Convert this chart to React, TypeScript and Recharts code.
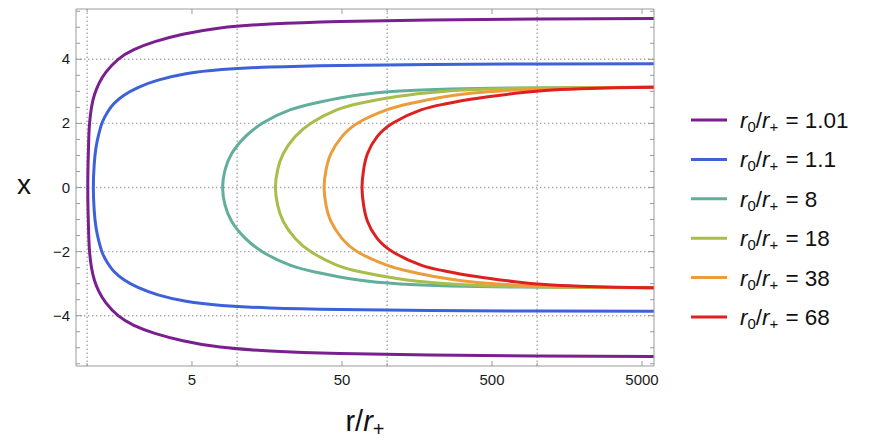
import { LineChart, Line, XAxis, YAxis, ReferenceLine } from "recharts";

// r0/r+ values shown in the legend, and their line colours
const seriesNames = ["1.01", "1.1", "8", "18", "38", "68"];
const seriesColors = ["#7a1f8e", "#3c61d8", "#62ae9c", "#a8be4b", "#eb9d3b", "#dd2121"];

// upper half of each curve (turning point outward): r/r+ and x
const r101 = [1.01, 1.015, 1.025, 1.038, 1.069, 1.12, 1.2, 1.335, 1.61, 2.05, 2.83, 4.35, 7.7, 16.6, 48.5, 193, 1045, 6000];
const x101 = [0, 0.8, 1.5, 2.0, 2.5, 2.9, 3.25, 3.6, 4.0, 4.3, 4.55, 4.78, 4.98, 5.1, 5.18, 5.23, 5.255, 5.27];

const r11 = [1.1, 1.114, 1.146, 1.2, 1.266, 1.366, 1.51, 1.76, 2.18, 2.97, 4.56, 7.9, 16.6, 48.5, 193, 1045, 6000];
const x11 = [0, 0.7, 1.25, 1.7, 2.05, 2.35, 2.62, 2.88, 3.12, 3.35, 3.55, 3.68, 3.76, 3.81, 3.84, 3.855, 3.86];

const r8 = [8, 8.3, 9.2, 11.3, 14.9, 22.5, 35.7, 62.7, 122, 262, 770, 6000];
const x8 = [0, 0.54, 1.06, 1.58, 2.02, 2.42, 2.67, 2.88, 3.01, 3.07, 3.105, 3.13];

const r18 = [18, 18.6, 20.3, 24.3, 31.4, 46.1, 65.9, 116, 225, 485, 1420, 6000];
const x18 = [0, 0.54, 1.06, 1.58, 2.02, 2.42, 2.63, 2.84, 2.99, 3.07, 3.11, 3.13];

const r38 = [38, 39.1, 42.2, 49.8, 64.2, 99.3, 142, 225, 373, 627, 1130, 2620, 6000];
const x38 = [0, 0.54, 1.06, 1.58, 2.02, 2.42, 2.62, 2.81, 2.95, 3.03, 3.085, 3.115, 3.13];

const r68 = [68, 69.6, 74, 85.5, 110, 168, 239, 336, 485, 712, 1128, 1930, 3300, 6000];
const x68 = [0, 0.54, 1.06, 1.58, 2.02, 2.42, 2.6, 2.73, 2.84, 2.94, 3.03, 3.085, 3.115, 3.13];

const xTicks = [1, 5, 10, 50, 100, 500, 1000, 5000];
const xLabeled = [5, 50, 500, 5000];
const xGrid = [1, 10, 100, 1000];
const yTicks = [-5.5, -5, -4.5, -4, -3.5, -3, -2.5, -2, -1.5, -1, -0.5, 0, 0.5, 1, 1.5, 2, 2.5, 3, 3.5, 4, 4.5, 5, 5.5];
const yLabeled = [-4, -2, 0, 2, 4];
const yGrid = [-4, -2, 0, 2, 4];

// the curves are mirror images about x = 0: lower half reversed, then upper half
const curve = (rs: number[], xs: number[]) => [
  ...rs.map((r, i) => ({ r, x: -xs[i] })).reverse(),
  ...rs.slice(1).map((r, i) => ({ r, x: xs[i + 1] })),
];

const curves = [
  curve(r101, x101),
  curve(r11, x11),
  curve(r8, x8),
  curve(r18, x18),
  curve(r38, x38),
  curve(r68, x68),
];

const FRAME = "#9a9a9a";
const GRID = "#a9a9a9";
const FONT = "'Liberation Sans', Arial, sans-serif";
const X_DOMAIN = [0.843, 6010];
const Y_DOMAIN = [-5.57, 5.57];

const fmt = (v: number) => (v < 0 ? `\u2212${Math.abs(v)}` : `${v}`);

const BottomTick = ({ x, y, payload }: any) => {
  const major = xLabeled.includes(payload.value);
  return (
    <g>
      <line x1={x} x2={x} y1={y} y2={y - (major ? 5 : 3)} stroke={FRAME} />
      {major && (
        <text x={x} y={y + 19} textAnchor="middle" fontSize={15} fontFamily={FONT} fill="#1a1a1a">
          {payload.value}
        </text>
      )}
    </g>
  );
};

const TopTick = ({ x, y, payload }: any) => {
  const major = xLabeled.includes(payload.value);
  return <line x1={x} x2={x} y1={y} y2={y + (major ? 5 : 3)} stroke={FRAME} />;
};

const LeftTick = ({ x, y, payload }: any) => {
  const major = yLabeled.includes(payload.value);
  return (
    <g>
      <line x1={x} x2={x + (major ? 6 : 4)} y1={y} y2={y} stroke={FRAME} />
      {major && (
        <text x={x - 6} y={y + 5} textAnchor="end" fontSize={15} fontFamily={FONT} fill="#1a1a1a">
          {fmt(payload.value)}
        </text>
      )}
    </g>
  );
};

const RightTick = ({ x, y, payload }: any) => {
  const major = yLabeled.includes(payload.value);
  return <line x1={x} x2={x - (major ? 6 : 4)} y1={y} y2={y} stroke={FRAME} />;
};

export default function App() {
  return (
    <div style={{ position: "relative", width: 864, height: 433, fontFamily: FONT }}>
      <LineChart width={864} height={433} margin={{ top: 0, right: 208, bottom: 0, left: 0 }}>
        <XAxis
          dataKey="r"
          type="number"
          scale="log"
          domain={X_DOMAIN}
          allowDataOverflow
          ticks={xTicks}
          interval={0}
          height={75}
          tickSize={0}
          tickMargin={0}
          tickLine={false}
          axisLine={{ stroke: FRAME }}
          tick={<BottomTick />}
        />
        <XAxis
          xAxisId="top"
          orientation="top"
          dataKey="r"
          type="number"
          scale="log"
          domain={X_DOMAIN}
          allowDataOverflow
          ticks={xTicks}
          interval={0}
          height={1}
          tickSize={0}
          tickMargin={0}
          tickLine={false}
          axisLine={{ stroke: FRAME }}
          tick={<TopTick />}
        />
        <YAxis
          type="number"
          domain={Y_DOMAIN}
          allowDataOverflow
          ticks={yTicks}
          interval={0}
          width={68}
          tickSize={0}
          tickMargin={0}
          tickLine={false}
          axisLine={{ stroke: FRAME }}
          tick={<LeftTick />}
        />
        <YAxis
          yAxisId="right"
          orientation="right"
          type="number"
          domain={Y_DOMAIN}
          allowDataOverflow
          ticks={yTicks}
          interval={0}
          width={10}
          tickSize={0}
          tickMargin={0}
          tickLine={false}
          axisLine={{ stroke: FRAME }}
          tick={<RightTick />}
        />

        {xGrid.map((v) => (
          <ReferenceLine key={`gx${v}`} x={v} stroke={GRID} strokeWidth={1.4} strokeDasharray="1.4 2.6" />
        ))}
        {yGrid.map((v) => (
          <ReferenceLine key={`gy${v}`} y={v} stroke={GRID} strokeWidth={1.4} strokeDasharray="1.4 2.6" />
        ))}

        {curves.map((pts, i) => (
          <Line
            key={seriesNames[i]}
            data={pts}
            dataKey="x"
            type="natural"
            stroke={seriesColors[i]}
            strokeWidth={3}
            dot={false}
            activeDot={false}
            isAnimationActive={false}
          />
        ))}
      </LineChart>

      <svg
        width={864}
        height={433}
        style={{ position: "absolute", left: 0, top: 0, pointerEvents: "none" }}
        fontFamily={FONT}
      >
        {/* axis titles */}
        <text x={16} y={186} textAnchor="middle" fontSize={28} fill="#111">
          x
        </text>
        <text x={357} y={423} textAnchor="middle" fontSize={29} fill="#111">
          r/<tspan fontStyle="italic">r</tspan>
          <tspan fontSize={20} dy={5}>+</tspan>
        </text>

        {/* legend */}
        {seriesNames.map((name, i) => {
          const cy = 112 + i * 39.4;
          return (
            <g key={name}>
              <line x1={683} x2={719} y1={cy} y2={cy} stroke={seriesColors[i]} strokeWidth={3} />
              <text x={732} y={cy + 8} fontSize={22.5} fill="#111">
                <tspan fontStyle="italic">r</tspan>
                <tspan fontSize={15} dy={4}>0</tspan>
                <tspan dy={-4}>/</tspan>
                <tspan fontStyle="italic">r</tspan>
                <tspan fontSize={15} dy={4}>+</tspan>
                <tspan dx={7} dy={-4}>= {name}</tspan>
              </text>
            </g>
          );
        })}
      </svg>
    </div>
  );
}
